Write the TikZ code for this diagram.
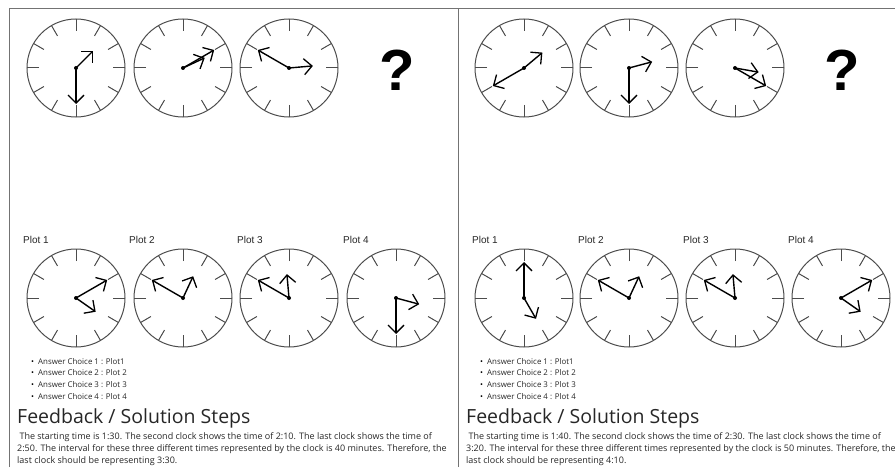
\documentclass[tikz,border=0pt]{standalone}
\usepackage{fontspec}
\usetikzlibrary{arrows.meta}
\newfontfamily\plotfont{Liberation Sans}
\newfontfamily\pagefont{Open Sans}

\tikzset{
  face/.style={circle,draw=black!70,line width=1pt,minimum size=98pt,inner sep=0pt},
  tick/.style={draw=black!70,line width=1pt},
  hand/.style={-{Straight Barb[length=8pt,width=16pt,line width=1.3pt]},line width=1.4pt},
  frame/.style={draw=black!55,line width=0.8pt},
  plotlabel/.style={anchor=west,inner sep=0pt,text=black!85,font=\plotfont\fontsize{10}{12}\selectfont},
  query/.style={inner sep=0pt,font=\plotfont\bfseries\fontsize{58}{60}\selectfont},
  choices/.style={anchor=north west,inner sep=0pt,align=left,text=black!85,font=\pagefont\fontsize{7.9}{11.7}\selectfont},
  heading/.style={anchor=west,inner sep=0pt,text=black!85,font=\pagefont\fontsize{19.5}{22}\selectfont},
  steps/.style={anchor=north west,inner sep=0pt,align=left,text=black!85,font=\pagefont\fontsize{9}{12}\selectfont}
}

\begin{document}
\begin{tikzpicture}[x=1pt,y=1pt]
\useasboundingbox (0,0) rectangle (895,467);

% panel frame
\draw[frame] (9,0) |- (895,459);
\draw[frame] (458,0) -- (458,459);

% clocks: x / y / hour / minute
\foreach \x/\y/\h/\m [count=\n] in
     {76/399/1/30,183/399/2/10,289/399/2/50,
      76/169/4/10,183/169/0/50,289/169/11/50,396/169/3/30,
      524/399/1/40,629/399/2/30,735/399/3/20,
      524/169/5/0,629/169/0/50,735/169/11/50,841/169/4/10}
 {
   \node[face] (C\n) at (\x,\y) {};
   \foreach \a in {0,30,...,330}
      \draw[tick] (C\n.center) ++(\a:37) -- ++(\a:12);
   \draw[hand] (C\n.center) -- ++({90-30*\h-0.5*\m}:24);
   \draw[hand] (C\n.center) -- ++({90-6*\m}:36);
   \fill (C\n.center) circle (2pt);
 }

\node[query] (Q1) at (397,397) {?};
\node[query] (Q2) at (842,397) {?};

% plot labels
\foreach \x/\i [count=\n] in {23/1,129/2,237/3,343/4,472/1,578/2,683/3,788/4}
   \node[plotlabel] (P\n) at (\x,227) {Plot \i};

% left answer and feedback
\node[choices] (A1) at (31,109) {%
  {\color{black}\textbullet}\hspace{4pt}Answer Choice 1 : Plot1\\
  {\color{black}\textbullet}\hspace{4pt}Answer Choice 2 : Plot 2\\
  {\color{black}\textbullet}\hspace{4pt}Answer Choice 3 : Plot 3\\
  {\color{black}\textbullet}\hspace{4pt}Answer Choice 4 : Plot 4};
\node[heading] (F1) at (17,49) {Feedback / Solution Steps};
\node[steps] (S1) at (17,35) {%
  \ The starting time is 1:30. The second clock shows the time of 2:10. The last clock shows the time of\\
  2:50. The interval for these three different times represented by the clock is 40 minutes. Therefore, the\\
  last clock should be representing 3:30.};

% right answer and feedback
\node[choices] (A2) at (480,109) {%
  {\color{black}\textbullet}\hspace{4pt}Answer Choice 1 : Plot1\\
  {\color{black}\textbullet}\hspace{4pt}Answer Choice 2 : Plot 2\\
  {\color{black}\textbullet}\hspace{4pt}Answer Choice 3 : Plot 3\\
  {\color{black}\textbullet}\hspace{4pt}Answer Choice 4 : Plot 4};
\node[heading] (F2) at (466,49) {Feedback / Solution Steps};
\node[steps] (S2) at (466,35) {%
  \ The starting time is 1:40. The second clock shows the time of 2:30. The last clock shows the time of\\
  3:20. The interval for these three different times represented by the clock is 50 minutes. Therefore, the\\
  last clock should be representing 4:10.};
\end{tikzpicture}
\end{document}
